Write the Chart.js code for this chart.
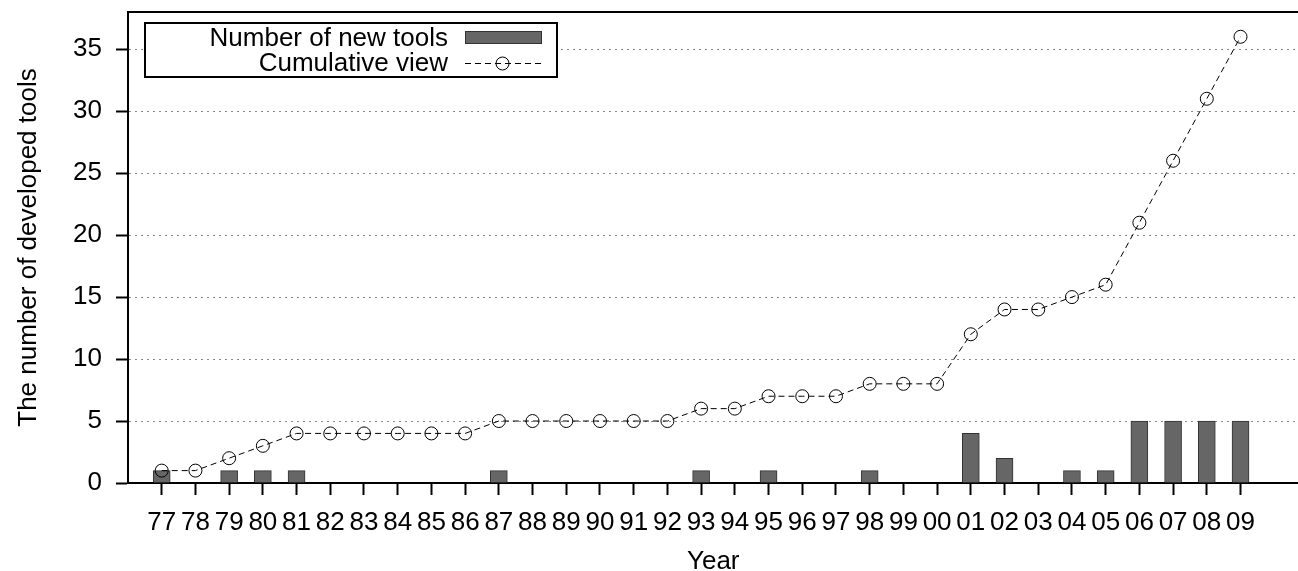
<!DOCTYPE html>
<html>
<head>
<meta charset="utf-8">
<title>Developed tools per year</title>
<script src="https://cdn.jsdelivr.net/npm/chart.js@4.4.1/dist/chart.umd.min.js"></script>
<style>
  html, body { margin: 0; padding: 0; background: #fff; overflow: hidden; }
  #toolsChart { display: block; width: 1306px; height: 571px; }
</style>
</head>
<body>
<canvas id="toolsChart" width="1306" height="571"></canvas>
<script>
const years = ["77", "78", "79", "80", "81", "82", "83", "84", "85", "86", "87", "88", "89", "90", "91", "92",
  "93", "94", "95", "96", "97", "98", "99", "00", "01", "02", "03", "04", "05", "06", "07", "08", "09"];
const newTools = [1, 0, 1, 1, 1, 0, 0, 0, 0, 0, 1, 0, 0, 0, 0, 0, 1, 0, 1, 0, 0, 1, 0, 0, 4, 2, 0, 1, 1, 5, 5, 5, 5];
const cumulative = [1, 1, 2, 3, 4, 4, 4, 4, 4, 4, 5, 5, 5, 5, 5, 5, 6, 6, 7, 7, 7, 8, 8, 8, 12, 14, 14, 15, 16, 21, 26, 31, 36];
const yTicks = [0, 5, 10, 15, 20, 25, 30, 35];
const seriesNames = ["Number of new tools", "Cumulative view"];

const fontFamily = "'Liberation Sans', Arial, Helvetica, sans-serif";
const font = { family: fontFamily, size: 26 };

// frame line on top of the plot (gnuplot style box, right side is cut off)
const topBorder = {
  id: "topBorder",
  afterDraw(chart) {
    const { ctx, chartArea } = chart;
    ctx.save();
    ctx.strokeStyle = "#000";
    ctx.lineWidth = 2;
    ctx.beginPath();
    ctx.moveTo(chartArea.left - 1, chartArea.top);
    ctx.lineTo(chartArea.right + 8, chartArea.top);
    ctx.stroke();
    ctx.restore();
  }
};

// boxed legend inside the plot, text right aligned before the sample
const boxLegend = {
  id: "boxLegend",
  afterDatasetsDraw(chart) {
    const ctx = chart.ctx;
    const x0 = 145, y0 = 23, w = 412, h = 54;
    ctx.save();
    ctx.fillStyle = "#fff";
    ctx.fillRect(x0, y0, w, h);
    ctx.strokeStyle = "#000";
    ctx.lineWidth = 2;
    ctx.strokeRect(x0, y0, w, h);

    ctx.font = "26px " + fontFamily;
    ctx.fillStyle = "#000";
    ctx.textAlign = "right";
    ctx.textBaseline = "middle";
    ctx.fillText(seriesNames[0], 448, 39);
    ctx.fillText(seriesNames[1], 448, 64);

    // bar sample
    ctx.fillStyle = "#666";
    ctx.fillRect(465, 31, 77, 13);
    ctx.strokeStyle = "#333";
    ctx.lineWidth = 1;
    ctx.strokeRect(465.5, 31.5, 76, 12);

    // line sample
    ctx.strokeStyle = "#000";
    ctx.setLineDash([6, 4]);
    ctx.beginPath();
    ctx.moveTo(465, 63.5);
    ctx.lineTo(542, 63.5);
    ctx.stroke();
    ctx.setLineDash([]);
    ctx.beginPath();
    ctx.arc(502.5, 63.5, 6.5, 0, Math.PI * 2);
    ctx.stroke();
    ctx.restore();
  }
};

const ctx = document.getElementById("toolsChart").getContext("2d");
new Chart(ctx, {
  data: {
    datasets: [
      {
        type: "line",
        label: seriesNames[1],
        data: cumulative.map((v, i) => ({ x: i, y: v })),
        borderColor: "#000",
        borderWidth: 1,
        borderDash: [6, 4],
        pointRadius: 6.5,
        pointBorderWidth: 1,
        pointBorderColor: "#000",
        pointBackgroundColor: "rgba(0,0,0,0)",
        tension: 0,
        order: 0
      },
      {
        type: "bar",
        label: seriesNames[0],
        data: newTools.map((v, i) => ({ x: i, y: v === 0 ? null : v })),
        backgroundColor: "#666",
        borderColor: "#333",
        borderWidth: 1,
        barThickness: 17,
        order: 1
      }
    ]
  },
  options: {
    responsive: false,
    animation: false,
    layout: { padding: { top: 12, right: 0, bottom: 0, left: 0 } },
    plugins: {
      legend: { display: false },
      tooltip: { enabled: false }
    },
    scales: {
      x: {
        type: "linear",
        bounds: "data",
        min: -1,
        max: 33.72,
        offset: false,
        afterBuildTicks: s => { s.ticks = years.map((_, i) => ({ value: i })); },
        afterFit: s => { s.height = 88; s.paddingLeft = 0; s.paddingRight = 0; },
        ticks: {
          callback: v => years[v],
          includeBounds: false,
          autoSkip: false,
          maxRotation: 0,
          padding: 12,
          color: "#000",
          font: font
        },
        grid: {
          offset: false,
          drawOnChartArea: false,
          tickLength: 12,
          tickWidth: 2,
          tickColor: "#000"
        },
        border: { color: "#000", width: 2 },
        title: {
          display: true,
          text: "Year",
          color: "#000",
          font: font,
          padding: { top: 0, bottom: -6.5 }
        }
      },
      y: {
        min: 0,
        max: 38,
        afterBuildTicks: s => { s.ticks = yTicks.map(v => ({ value: v })); },
        afterFit: s => { s.width = 128; s.paddingTop = 0; s.paddingBottom = 0; },
        ticks: {
          padding: 14,
          color: "#000",
          font: font
        },
        grid: {
          color: c => (c.tick && c.tick.value === 0 ? "rgba(0,0,0,0)" : "#888"),
          lineWidth: 1,
          tickLength: 12,
          tickWidth: 2,
          tickColor: "#000",
          tickBorderDash: []
        },
        border: { color: "#000", width: 2, dash: [2, 4] },
        title: {
          display: true,
          text: "The number of developed tools",
          color: "#000",
          font: font,
          padding: { top: 13, bottom: 0 }
        }
      }
    }
  },
  plugins: [topBorder, boxLegend]
});
</script>
</body>
</html>
